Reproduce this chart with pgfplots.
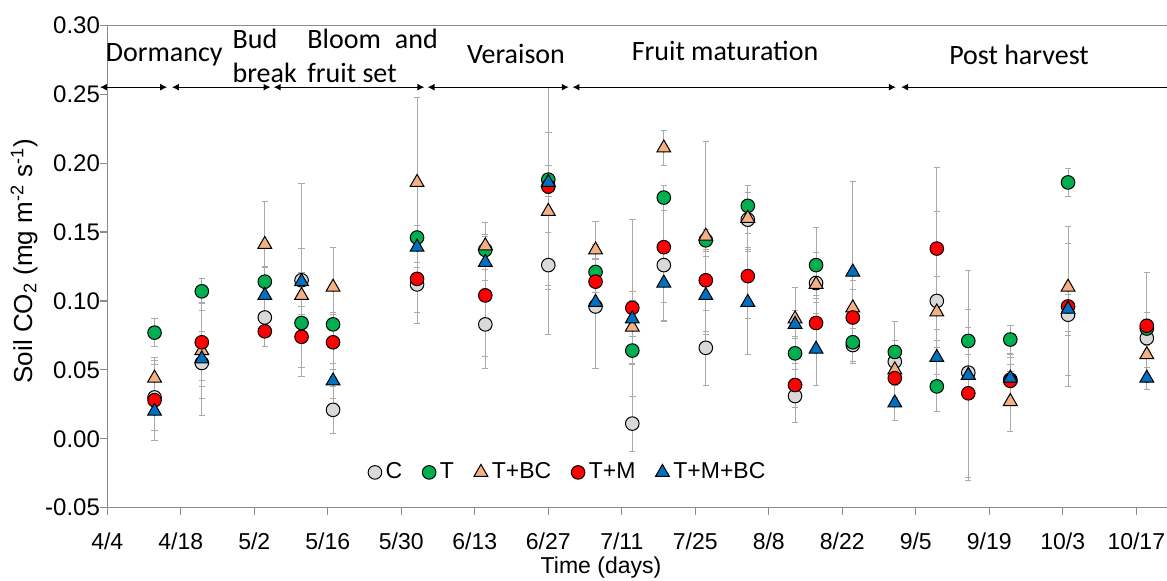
\documentclass[border=0pt]{standalone}
\usepackage{pgfplots}
\pgfplotsset{compat=1.18}
\usepackage{pgfplotstable}
\usepackage{fontspec}
\setmainfont{Liberation Sans}
\newfontfamily\calib{Carlito}
\usetikzlibrary{arrows.meta}
\definecolor{cC}{RGB}{217,217,217}
\definecolor{cT}{RGB}{0,176,80}
\definecolor{cTBC}{RGB}{244,177,131}
\definecolor{cTM}{RGB}{255,0,0}
\definecolor{cTMBC}{RGB}{0,112,192}
\definecolor{axgray}{RGB}{140,140,140}
\definecolor{errgray}{RGB}{170,170,170}

% d = days since 4/4, v = soil CO2, e = error
\pgfplotstableread{
d v e
9 0.030 0.024
18 0.055 0.038
30 0.088 0.021
37 0.115 0.070
43 0.021 0.017
59 0.112 0.028
72 0.083 0.032
84 0.126 0.050
93 0.096 0.045
100 0.011 0.020
106 0.126 0.040
114 0.066 0.027
122 0.159 0.020
131 0.031 0.019
135 0.113 0.022
142 0.068 0.012
150 0.056 0.015
158 0.100 0.065
164 0.048 0.018
172 0.043 0.018
183 0.090 0.015
198 0.073 0.008
}\tC
\pgfplotstableread{
d v e
9 0.077 0.010
18 0.107 0.009
30 0.114 0.011
37 0.084 0.012
43 0.083 0.009
59 0.146 0.009
72 0.137 0.010
84 0.188 0.010
93 0.121 0.010
100 0.064 0.010
106 0.175 0.009
114 0.144 0.008
122 0.169 0.015
131 0.062 0.012
135 0.126 0.027
142 0.070 0.014
150 0.063 0.022
158 0.038 0.018
164 0.071 0.010
172 0.072 0.010
183 0.186 0.010
198 0.080 0.012
}\tT
\pgfplotstableread{
d v e
9 0.044 0.015
18 0.064 0.035
30 0.141 0.031
37 0.104 0.017
43 0.110 0.029
59 0.186 0.062
72 0.140 0.017
84 0.165 0.057
93 0.137 0.021
100 0.081 0.026
106 0.211 0.013
114 0.147 0.069
122 0.160 0.024
131 0.087 0.023
135 0.112 0.010
142 0.095 0.020
150 0.050 0.010
158 0.092 0.026
164 0.046 0.015
172 0.027 0.022
183 0.110 0.032
198 0.061 0.020
}\tTBC
\pgfplotstableread{
d v e
9 0.028 0.029
18 0.070 0.028
30 0.078 0.011
37 0.074 0.022
43 0.070 0.020
59 0.116 0.024
72 0.104 0.044
84 0.183 0.072
93 0.114 0.016
100 0.095 0.064
106 0.139 0.040
114 0.115 0.022
122 0.118 0.031
131 0.039 0.016
135 0.084 0.020
142 0.088 0.020
150 0.044 0.014
158 0.138 0.059
164 0.033 0.061
172 0.042 0.012
183 0.096 0.058
198 0.082 0.039
}\tTM
\pgfplotstableread{
d v e
9 0.020 0.014
18 0.058 0.020
30 0.104 0.020
37 0.114 0.024
43 0.042 0.013
59 0.139 0.011
72 0.128 0.019
84 0.186 0.036
93 0.099 0.007
100 0.087 0.013
106 0.113 0.028
114 0.104 0.028
122 0.099 0.038
131 0.083 0.010
135 0.065 0.026
142 0.121 0.066
150 0.026 0.013
158 0.059 0.012
164 0.046 0.076
172 0.044 0.015
183 0.094 0.048
198 0.044 0.008
}\tTMBC

\pgfplotsset{
  errplot/.style={only marks, mark=none, forget plot,
    error bars/.cd, y dir=both, y explicit,
    error bar style={draw=errgray, line width=0.45pt},
    error mark options={draw=errgray, rotate=90, mark size=1.6pt, line width=0.45pt}},
}

\begin{document}
\begin{tikzpicture}
\begin{axis}[
  scale only axis, width=529.85pt, height=241.2pt,
  xmin=0, xmax=201.85, ymin=-0.05, ymax=0.30,
  clip=false,
  axis x line*=bottom, axis y line*=left,
  axis line style={draw=axgray, line width=0.6pt, -},
  xtick={0,14,...,196},
  xticklabels={4/4,4/18,5/2,5/16,5/30,6/13,6/27,7/11,7/25,8/8,8/22,9/5,9/19,10/3,10/17},
  ytick={-0.05,0,0.05,0.1,0.15,0.2,0.25,0.3},
  yticklabels={-0.05,0.00,0.05,0.10,0.15,0.20,0.25,0.30},
  tick align=outside, major tick length=3.5pt,
  tick style={draw=axgray, line width=0.6pt},
  xticklabel style={anchor=base, inner sep=0pt, yshift=-17.5pt, font=\fontsize{11.5}{13.8}\selectfont},
  yticklabel style={anchor=east, inner sep=0pt, font=\fontsize{12}{14}\selectfont},
  xlabel={Time (days)},
  ylabel={Soil CO\textsubscript{2} (mg m\textsuperscript{-2} s\textsuperscript{-1})},
  every axis x label/.style={at={(axis description cs:0.4659,-0.1374)}, anchor=base, font=\fontsize{11.5}{13.8}\selectfont},
  every axis y label/.style={at={(axis description cs:-0.0786,0.5114)}, rotate=90, anchor=center, font=\fontsize{13}{15}\selectfont},
  legend image code/.code={\draw[#1] plot coordinates {(0cm,0cm)};},
  legend style={draw=none, fill=none, at={(axis cs:87.9,-0.0244)}, anchor=center,
    font=\fontsize{11.5}{13.8}\selectfont, inner sep=0pt,
    /tikz/every even column/.append style={column sep=8pt},
    nodes={inner sep=2pt}},
  legend columns=5,
]
\addplot[errplot] table[x=d, y=v, y error=e] {\tC};
\addplot[errplot] table[x=d, y=v, y error=e] {\tT};
\addplot[errplot] table[x=d, y=v, y error=e] {\tTBC};
\addplot[errplot] table[x=d, y=v, y error=e] {\tTM};
\addplot[errplot] table[x=d, y=v, y error=e] {\tTMBC};

\addplot[only marks, mark=*, mark size=3.4pt, mark options={fill=cC, draw=black, line width=0.5pt}] table[x=d, y=v] {\tC};
\addlegendentry{C}
\addplot[only marks, mark=*, mark size=3.4pt, mark options={fill=cT, draw=black, line width=0.5pt}] table[x=d, y=v] {\tT};
\addlegendentry{T}
\addplot[only marks, mark=triangle*, mark size=4pt, mark options={fill=cTBC, draw=black, line width=0.5pt}] table[x=d, y=v] {\tTBC};
\addlegendentry{T+BC}
\addplot[only marks, mark=*, mark size=3.4pt, mark options={fill=cTM, draw=black, line width=0.5pt}] table[x=d, y=v] {\tTM};
\addlegendentry{T+M}
\addplot[only marks, mark=triangle*, mark size=4pt, mark options={fill=cTMBC, draw=black, line width=0.5pt}] table[x=d, y=v] {\tTMBC};
\addlegendentry{T+M+BC}

% top border
\draw[axgray, line width=0.6pt] (rel axis cs:0,1) -- (rel axis cs:1,1);

% phase arrows
\tikzset{ph/.style={line width=0.6pt, {Latex[length=3.5pt,width=3.5pt]}-{Latex[length=3.5pt,width=3.5pt]}}}
\draw[ph] (axis cs:-1.4,0.2551) -- (axis cs:11.4,0.2551);
\draw[ph] (axis cs:12.3,0.2551) -- (axis cs:31.1,0.2551);
\draw[ph] (axis cs:31.7,0.2551) -- (axis cs:60.4,0.2551);
\draw[ph] (axis cs:61.0,0.2551) -- (axis cs:87.9,0.2551);
\draw[ph] (axis cs:88.6,0.2551) -- (axis cs:150.2,0.2551);
\draw[line width=0.6pt, {Latex[length=3.5pt,width=3.5pt]}-] (axis cs:151.2,0.2551) -- (axis cs:201.85,0.2551);

\tikzset{phl/.style={font=\calib\fontsize{14}{16}\selectfont, inner sep=0pt}}
\node[phl, anchor=base] at (axis cs:10.84,0.2734) {Dormancy};
\node[phl, anchor=base west] at (axis cs:23.79,0.2831) {Bud};
\node[phl, anchor=base west] at (axis cs:23.79,0.2582) {break};
\node[phl, anchor=base west] at (axis cs:38.04,0.2831) {Bloom\hspace{7pt}and};
\node[phl, anchor=base west] at (axis cs:38.04,0.2582) {fruit set};
\node[phl, anchor=base] at (axis cs:77.85,0.2722) {Veraison};
\node[phl, anchor=base] at (axis cs:117.66,0.2746) {Fruit maturation};
\node[phl, anchor=base] at (axis cs:173.66,0.2717) {Post harvest};
\end{axis}
\pgfresetboundingbox
\path (-53.65pt,-36.65pt) rectangle (529.85pt,253.85pt);
\end{tikzpicture}
\end{document}
